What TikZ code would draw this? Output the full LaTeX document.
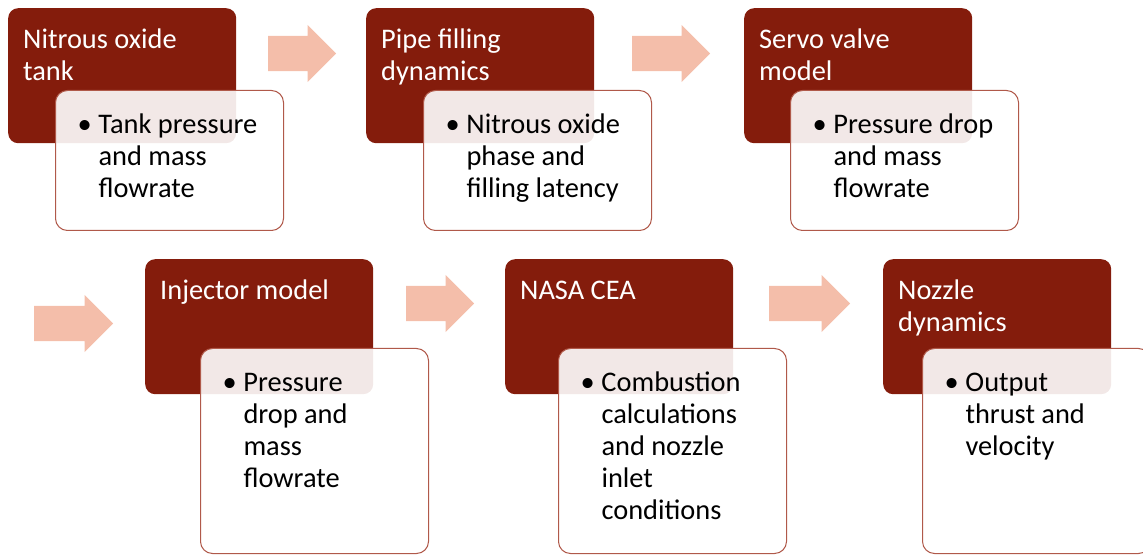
\documentclass[tikz,border=0pt]{standalone}
\usepackage{fontspec}
\setmainfont{Carlito}
\usetikzlibrary{shapes.arrows}

\definecolor{brick}{HTML}{841C0C}
\definecolor{salmon}{HTML}{F4BEAA}
\definecolor{rim}{HTML}{B0594A}

% title text of a dark box, and the bullet text of a white box
\newcommand{\boxtitle}[1]{\parbox[t][111bp][t]{198bp}{\raggedright\rule{0pt}{28bp}#1}}
\newcommand{\boxitem}[2]{\parbox[t][#1][t]{184bp}{\raggedright\hangindent=21bp\hangafter=1
    \rule{0pt}{31bp}\makebox[21bp][l]{\textbullet}#2}}

\tikzset{
    stagebox/.style={anchor=north west, rounded corners=10bp, fill=brick, text=white,
        inner xsep=15bp, inner ysep=12bp, font=\fontsize{28.5}{32}\selectfont},
    infobox/.style={anchor=north west, rounded corners=12bp, draw=rim, line width=1bp,
        fill=white, fill opacity=0.9, text opacity=1, text=black,
        inner xsep=22bp, inner ysep=12bp, minimum width=228bp, font=\fontsize{28.5}{32}\selectfont},
    flowarrow/.style={single arrow, single arrow head extend=11bp, fill=salmon, draw=none,
        inner xsep=0pt, inner ysep=17.5bp, minimum width=57bp, minimum height=#1, anchor=tail}
}

\begin{document}
\begin{tikzpicture}[x=1bp, y=-1bp]
        \useasboundingbox (0,0) rectangle (1143,555);

        \node[stagebox] (tank) at (8,8) {\boxtitle{Nitrous oxide\\tank}};
        \node[stagebox] (pipe) at (366,8) {\boxtitle{Pipe filling\\dynamics}};
        \node[stagebox] (servo) at (744,8) {\boxtitle{Servo valve\\model}};
        \node[stagebox] (injector) at (145,259) {\boxtitle{Injector model}};
        \node[stagebox] (cea) at (505,259) {\boxtitle{NASA CEA}};
        \node[stagebox] (nozzle) at (883,259) {\boxtitle{Nozzle\\dynamics}};

        \node[infobox] (tankinfo) at (55,90) {\boxitem{116bp}{Tank pressure\newline and mass\newline flowrate}};
        \node[infobox] (pipeinfo) at (423,90) {\boxitem{116bp}{Nitrous oxide\newline phase and\newline filling latency}};
        \node[infobox] (servoinfo) at (790,90) {\boxitem{116bp}{Pressure drop\newline and mass\newline flowrate}};
        \node[infobox] (injectorinfo) at (200,348) {\boxitem{181bp}{Pressure\newline drop and\newline mass\newline flowrate}};
        \node[infobox] (ceainfo) at (558,348) {\boxitem{181bp}{Combustion\newline calculations\newline and nozzle\newline inlet\newline conditions}};
        \node[infobox] (nozzleinfo) at (922,348) {\boxitem{181bp}{Output\newline thrust and\newline velocity}};

        \node[flowarrow=68bp] (tankpipe) at (268,53.5) {};
        \node[flowarrow=78bp] (pipeservo) at (632,53.5) {};
        \node[flowarrow=79bp] (servoinjector) at (34,323.5) {};
        \node[flowarrow=68bp] (injectorcea) at (406,303.5) {};
        \node[flowarrow=81bp] (ceanozzle) at (769,303.5) {};
\end{tikzpicture}
\end{document}
